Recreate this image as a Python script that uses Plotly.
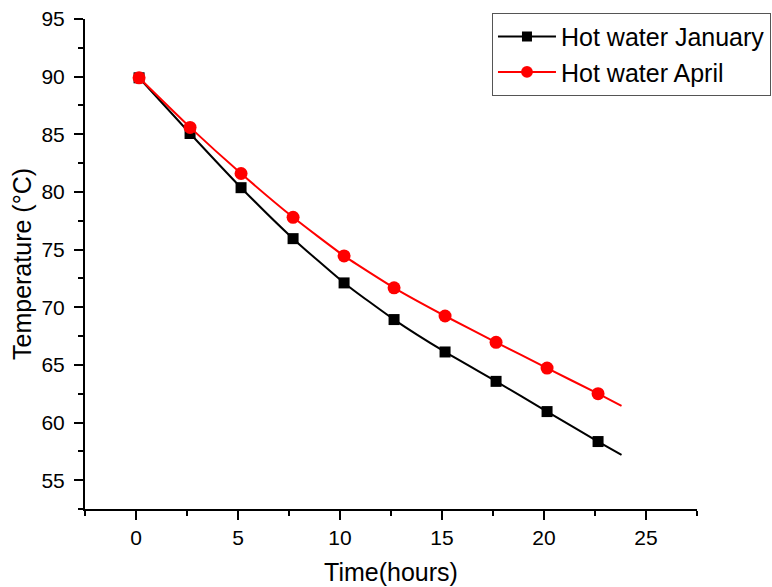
import plotly.graph_objects as go

# Data
time_hours = [0.15, 2.65, 5.15, 7.7, 10.2, 12.65, 15.15, 17.65, 20.15, 22.65, 23.8]
temp_january = [89.9, 85.07, 80.37, 75.95, 72.11, 68.93, 66.12, 63.57, 60.95, 58.35, 57.2]
temp_april = [89.9, 85.6, 81.6, 77.8, 74.45, 71.68, 69.24, 66.96, 64.72, 62.5, 61.45]
# last point is the curve end without a symbol
marker_sizes_sq = [11] * 10 + [0]
marker_sizes_ci = [13] * 10 + [0]

x_ticks = [0, 5, 10, 15, 20, 25]
y_ticks = [55, 60, 65, 70, 75, 80, 85, 90, 95]

FONT = "Liberation Sans, Arial, sans-serif"

fig = go.Figure()
fig.add_trace(go.Scatter(
    x=time_hours, y=temp_january, name="Hot water January",
    mode="lines+markers",
    line=dict(color="black", width=2, shape="spline", smoothing=0.5),
    marker=dict(symbol="square", size=marker_sizes_sq, color="black",
                opacity=1, line=dict(width=0)),
))
fig.add_trace(go.Scatter(
    x=time_hours, y=temp_april, name="Hot water April",
    mode="lines+markers",
    line=dict(color="#FF0000", width=2, shape="spline", smoothing=0.5),
    marker=dict(symbol="circle", size=marker_sizes_ci, color="#FF0000",
                opacity=1, line=dict(width=0)),
))

axis_common = dict(
    showline=True, linecolor="black", linewidth=2,
    ticks="outside", ticklen=9, tickwidth=2, tickcolor="black",
    showgrid=False, zeroline=False, mirror=False,
    tickfont=dict(family=FONT, size=21, color="black"),
)

fig.update_xaxes(
    range=[-2.5, 27.5], tickvals=x_ticks,
    minor=dict(ticks="outside", ticklen=5, tickwidth=2, tickcolor="black", dtick=2.5, tick0=0),
    title=dict(text="Time(hours)", font=dict(family=FONT, size=25, color="black"), standoff=15),
    **axis_common,
)
fig.update_yaxes(
    range=[52.5, 95], tickvals=y_ticks,
    minor=dict(ticks="outside", ticklen=5, tickwidth=2, tickcolor="black", dtick=2.5, tick0=0),
    title=dict(text="Temperature (°C)", font=dict(family=FONT, size=25, color="black"), standoff=3),
    ticklabelstandoff=5,
    **axis_common,
)

fig.update_layout(
    width=772, height=587,
    margin=dict(l=85, r=75, t=19, b=78, autoexpand=False),
    paper_bgcolor="white", plot_bgcolor="white",
    font=dict(family=FONT, color="black"),
    hovermode=False,
    legend=dict(
        x=0.665, y=1.013, xanchor="left", yanchor="top",
        bordercolor="#555555", borderwidth=1, bgcolor="white",
        font=dict(family=FONT, size=25, color="black"),
        tracegroupgap=0, itemwidth=58,
    ),
)

fig.write_html("out.html", config={"displayModeBar": False},
               post_script="document.body.style.margin='0px';")
